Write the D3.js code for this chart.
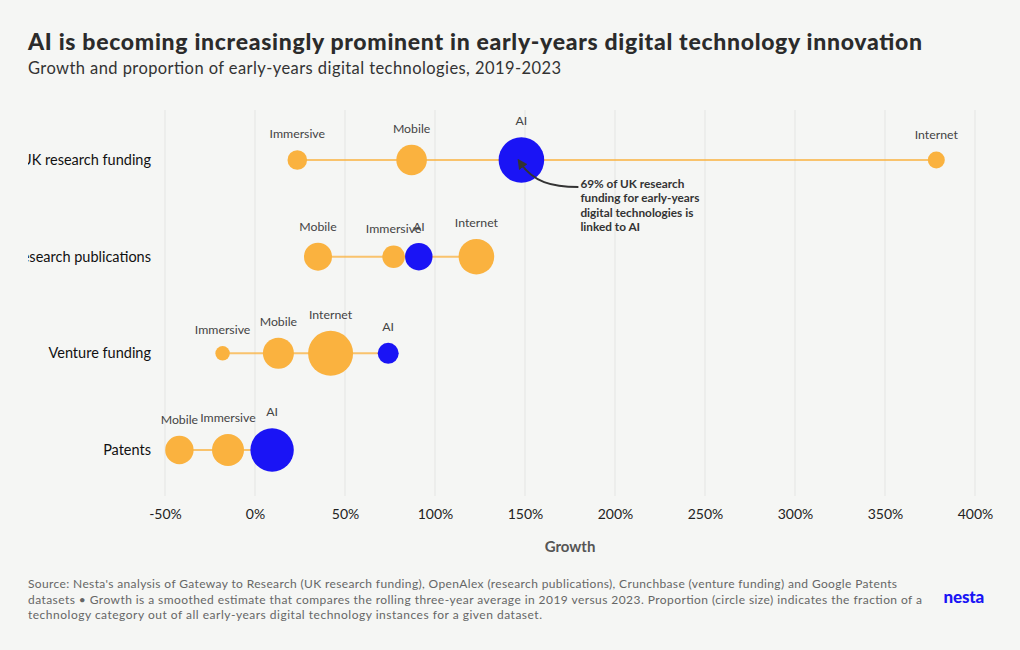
<!DOCTYPE html>
<html>
<head>
<meta charset="utf-8">
<script src="https://cdn.jsdelivr.net/npm/d3@7/dist/d3.min.js"></script>
<style>
  html, body { margin: 0; padding: 0; background: #f5f6f4; }
  svg { display: block; font-family: Lato, "Noto Sans", sans-serif; }
</style>
</head>
<body>
<svg id="chart" width="1020" height="650"></svg>
<script>
// ---- Data ----
const datasets = ["UK research funding", "Research publications", "Venture funding", "Patents"];
const technologies = ["Immersive", "Mobile", "Internet", "AI"];
// growth (%) per dataset, in the order of `datasets`
const growthAI        = [148, 91, 74, 9.5];
const growthImmersive = [23.5, 77, -18, -15];
const growthInternet  = [378.5, 123, 42, null];
const growthMobile    = [87, 35, 13, -42];
// proportion (circle size) per dataset
const propAI        = [0.69, 0.25, 0.146, 0.625];
const propImmersive = [0.127, 0.169, 0.069, 0.34];
const propInternet  = [0.096, 0.42, 0.672, null];
const propMobile    = [0.31, 0.26, 0.319, 0.268];
const xTicks = [-50, 0, 50, 100, 150, 200, 250, 300, 350, 400];

const growthBy = { AI: growthAI, Immersive: growthImmersive, Internet: growthInternet, Mobile: growthMobile };
const propBy   = { AI: propAI, Immersive: propImmersive, Internet: propInternet, Mobile: propMobile };

const points = [];
datasets.forEach((d, i) => {
  technologies.forEach(t => {
    if (growthBy[t][i] != null) points.push({ dataset: d, tech: t, growth: growthBy[t][i], prop: propBy[t][i] });
  });
});

// ---- Layout ----
const svg = d3.select("#chart");
const W = 1020, H = 650;
const ORANGE = "#fab23f", BLUE = "#1a14f5";

svg.append("rect").attr("width", W).attr("height", H).attr("fill", "#f5f6f4");

const x = d3.scaleLinear().domain([-50, 400]).range([165, 975]);
const y = d3.scalePoint().domain(datasets).range([160, 450]);
const r = d3.scaleSqrt().domain([0, 0.69]).range([0, 22.8]);

// Title
svg.append("text").attr("x", 28).attr("y", 50)
  .attr("font-size", 23).attr("font-weight", 900).attr("fill", "#2b2b2b")
  .attr("textLength", 894).attr("lengthAdjust", "spacing")
  .text("AI is becoming increasingly prominent in early-years digital technology innovation");
svg.append("text").attr("x", 28).attr("y", 74)
  .attr("font-size", 16.5).attr("fill", "#333")
  .attr("textLength", 533).attr("lengthAdjust", "spacing")
  .text("Growth and proportion of early-years digital technologies, 2019-2023");

// Grid
svg.append("g").selectAll("line").data(xTicks).join("line")
  .attr("x1", d => x(d)).attr("x2", d => x(d))
  .attr("y1", 110).attr("y2", 496)
  .attr("stroke", "#e4e5e3").attr("stroke-width", 1);

// X axis
const xAxis = svg.append("g").attr("transform", "translate(0,506)")
  .call(d3.axisBottom(x).tickValues(xTicks).tickFormat(d => d + "%").tickSize(0));
xAxis.select(".domain").remove();
xAxis.selectAll("text").attr("font-size", 14).attr("fill", "#222")
  .attr("font-family", "Lato, sans-serif").attr("dy", "0.71em");

svg.append("text").attr("x", x(175)).attr("y", 552).attr("text-anchor", "middle")
  .attr("font-size", 15).attr("font-weight", 700).attr("fill", "#555").text("Growth");

// Y labels (clipped at left like the reference)
svg.append("clipPath").attr("id", "ylab").append("rect")
  .attr("x", 28).attr("y", 100).attr("width", 200).attr("height", 400);
svg.append("g").attr("clip-path", "url(#ylab)")
  .selectAll("text").data(datasets).join("text")
  .attr("x", 151).attr("y", d => y(d)).attr("dy", "0.35em")
  .attr("text-anchor", "end").attr("font-size", 14.5).attr("fill", "#111")
  .text(d => d);

// Connecting lines
const rows = datasets.map(d => {
  const ps = points.filter(p => p.dataset === d);
  return { dataset: d, min: d3.min(ps, p => p.growth), max: d3.max(ps, p => p.growth) };
});
svg.append("g").selectAll("line").data(rows).join("line")
  .attr("x1", d => x(d.min)).attr("x2", d => x(d.max))
  .attr("y1", d => y(d.dataset)).attr("y2", d => y(d.dataset))
  .attr("stroke", ORANGE).attr("stroke-opacity", 0.75).attr("stroke-width", 2);

// Circles
svg.append("g").selectAll("circle").data(points).join("circle")
  .attr("cx", d => x(d.growth)).attr("cy", d => y(d.dataset))
  .attr("r", d => r(d.prop))
  .attr("fill", d => d.tech === "AI" ? BLUE : ORANGE);

// Point labels
svg.append("g").selectAll("text").data(points).join("text")
  .attr("x", d => x(d.growth)).attr("y", d => y(d.dataset) - r(d.prop) - 12)
  .attr("text-anchor", "middle").attr("font-size", 12.3).attr("fill", "#444")
  .text(d => d.tech);

// Annotation
const ax = x(growthAI[0]), ay = y(datasets[0]);
svg.append("defs").append("marker").attr("id", "arr")
  .attr("viewBox", "0 0 10 10").attr("refX", 5).attr("refY", 5)
  .attr("markerWidth", 5).attr("markerHeight", 5).attr("orient", "auto")
  .append("path").attr("d", "M0,0 L10,5 L0,10 z").attr("fill", "#333");
svg.append("path")
  .attr("d", `M${ax + 57},${ay + 27} C${ax + 30},${ay + 27} ${ax + 12},${ay + 22} ${ax - 1},${ay + 3}`)
  .attr("fill", "none").attr("stroke", "#333").attr("stroke-width", 2)
  .attr("marker-end", "url(#arr)");
const annLines = ["69% of UK research", "funding for early-years", "digital technologies is", "linked to AI"];
svg.append("g").selectAll("text").data(annLines).join("text")
  .attr("x", ax + 59).attr("y", (d, i) => ay + 28 + i * 14.3)
  .attr("font-size", 11.8).attr("font-weight", 700).attr("fill", "#333")
  .text(d => d);

// Footer
const foot = [
  "Source: Nesta's analysis of Gateway to Research (UK research funding), OpenAlex (research publications), Crunchbase (venture funding) and Google Patents",
  "datasets \u2022 Growth is a smoothed estimate that compares the rolling three-year average in 2019 versus 2023. Proportion (circle size) indicates the fraction of a",
  "technology category out of all early-years digital technology instances for a given dataset."
];
const footLen = [869, 894, 514];
svg.append("g").selectAll("text").data(foot).join("text")
  .attr("x", 28).attr("y", (d, i) => 588 + i * 15.5)
  .attr("font-size", 12).attr("fill", "#666")
  .attr("textLength", (d, i) => footLen[i]).attr("lengthAdjust", "spacing")
  .text(d => d);

svg.append("text").attr("x", 984).attr("y", 603).attr("text-anchor", "end")
  .attr("font-size", 17).attr("font-weight", 900).attr("fill", "#1a14f5")
  .attr("letter-spacing", -0.2).text("nesta");
</script>
</body>
</html>
